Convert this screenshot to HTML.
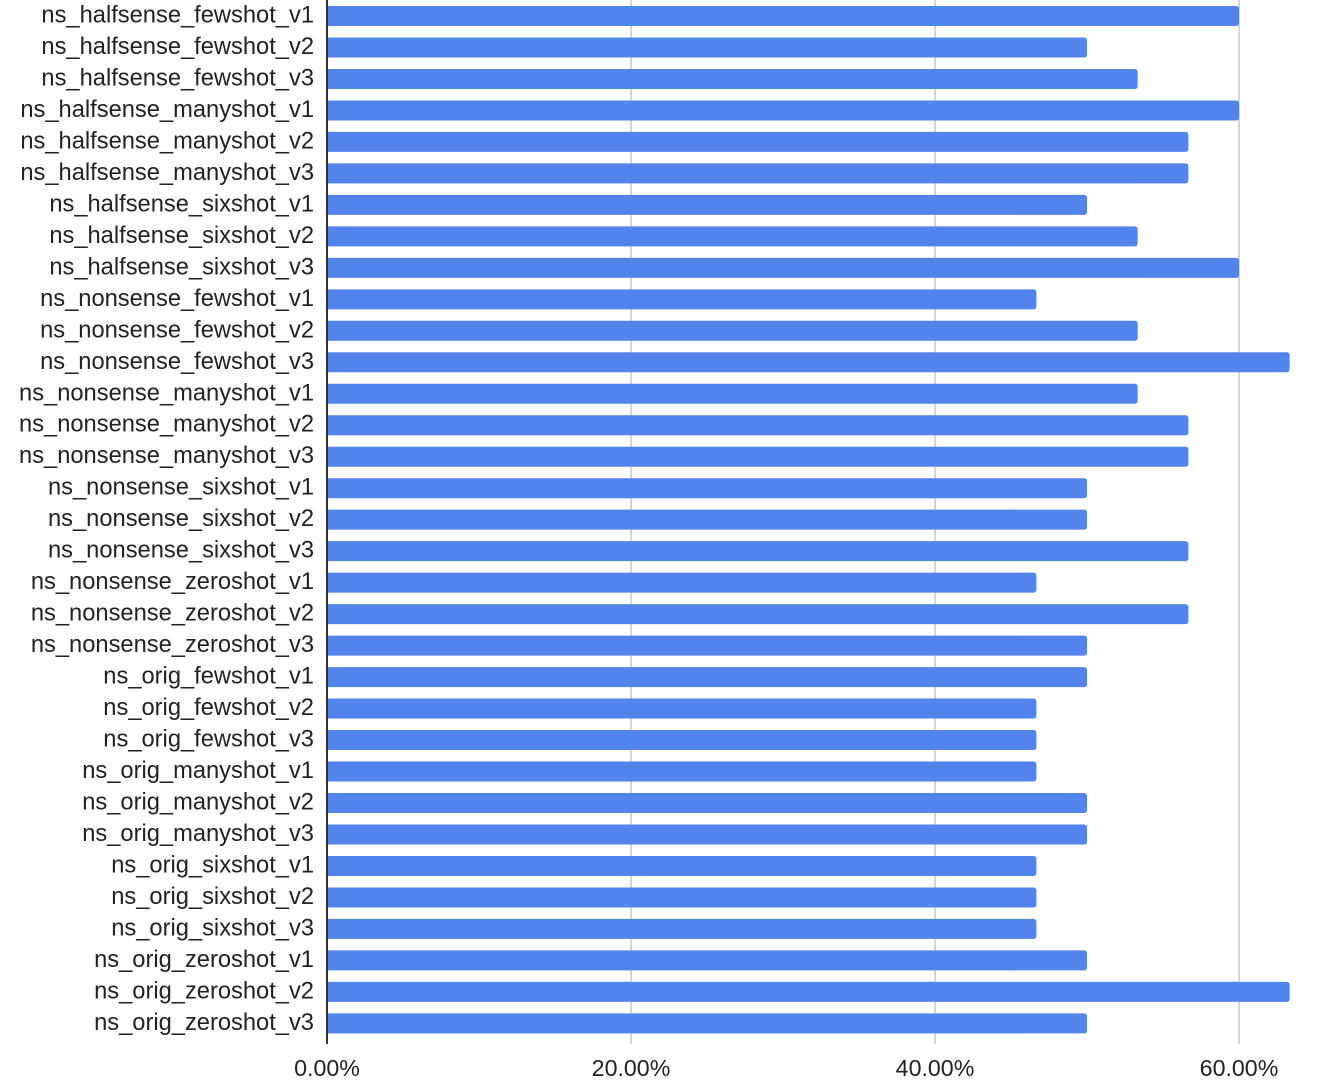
<!DOCTYPE html>
<html><head><meta charset="utf-8"><style>
html,body{margin:0;padding:0;background:#fff;}
svg{display:block;}
text{font-family:"Liberation Sans",Arial,sans-serif;fill:#222;}
</style></head><body>
<svg width="1324" height="1086" viewBox="0 0 1324 1086" xmlns="http://www.w3.org/2000/svg">
<g stroke="#cccccc" stroke-width="1.6">
<line x1="631" y1="0" x2="631" y2="1044"/>
<line x1="935" y1="0" x2="935" y2="1044"/>
<line x1="1239" y1="0" x2="1239" y2="1044"/>
</g>
<g id="bars" fill="#5384ec"></g>
<g id="labels" font-size="23.7" text-anchor="end"></g>
<line x1="327" y1="0" x2="327" y2="1044" stroke="#333" stroke-width="2"/>
<g font-size="23.2" text-anchor="middle">
<text x="327" y="1076">0.00%</text>
<text x="631" y="1076">20.00%</text>
<text x="935" y="1076">40.00%</text>
<text x="1239" y="1076">60.00%</text>
</g>
</svg>
<script>
var data=[
["ns_halfsense_fewshot_v1",60],["ns_halfsense_fewshot_v2",50],["ns_halfsense_fewshot_v3",53.33],
["ns_halfsense_manyshot_v1",60],["ns_halfsense_manyshot_v2",56.67],["ns_halfsense_manyshot_v3",56.67],
["ns_halfsense_sixshot_v1",50],["ns_halfsense_sixshot_v2",53.33],["ns_halfsense_sixshot_v3",60],
["ns_nonsense_fewshot_v1",46.67],["ns_nonsense_fewshot_v2",53.33],["ns_nonsense_fewshot_v3",63.33],
["ns_nonsense_manyshot_v1",53.33],["ns_nonsense_manyshot_v2",56.67],["ns_nonsense_manyshot_v3",56.67],
["ns_nonsense_sixshot_v1",50],["ns_nonsense_sixshot_v2",50],["ns_nonsense_sixshot_v3",56.67],
["ns_nonsense_zeroshot_v1",46.67],["ns_nonsense_zeroshot_v2",56.67],["ns_nonsense_zeroshot_v3",50],
["ns_orig_fewshot_v1",50],["ns_orig_fewshot_v2",46.67],["ns_orig_fewshot_v3",46.67],
["ns_orig_manyshot_v1",46.67],["ns_orig_manyshot_v2",50],["ns_orig_manyshot_v3",50],
["ns_orig_sixshot_v1",46.67],["ns_orig_sixshot_v2",46.67],["ns_orig_sixshot_v3",46.67],
["ns_orig_zeroshot_v1",50],["ns_orig_zeroshot_v2",63.33],["ns_orig_zeroshot_v3",50]];
var NS="http://www.w3.org/2000/svg";
var bars=document.getElementById("bars"),labels=document.getElementById("labels");
data.forEach(function(d,i){
  var top=6+31.48*i, c=top+10, w=d[1]*15.2;
  var p=document.createElementNS(NS,"path");
  var x0=327,x1=327+w,r=3,y0=top,y1=top+20;
  p.setAttribute("d","M"+x0+","+y0+"H"+(x1-r)+"Q"+x1+","+y0+" "+x1+","+(y0+r)+"V"+(y1-r)+"Q"+x1+","+y1+" "+(x1-r)+","+y1+"H"+x0+"Z");
  bars.appendChild(p);
  var t=document.createElementNS(NS,"text");
  t.setAttribute("x","314");t.setAttribute("y",(c+6.5).toFixed(1));
  t.textContent=d[0];labels.appendChild(t);
});
</script>
</body></html>
